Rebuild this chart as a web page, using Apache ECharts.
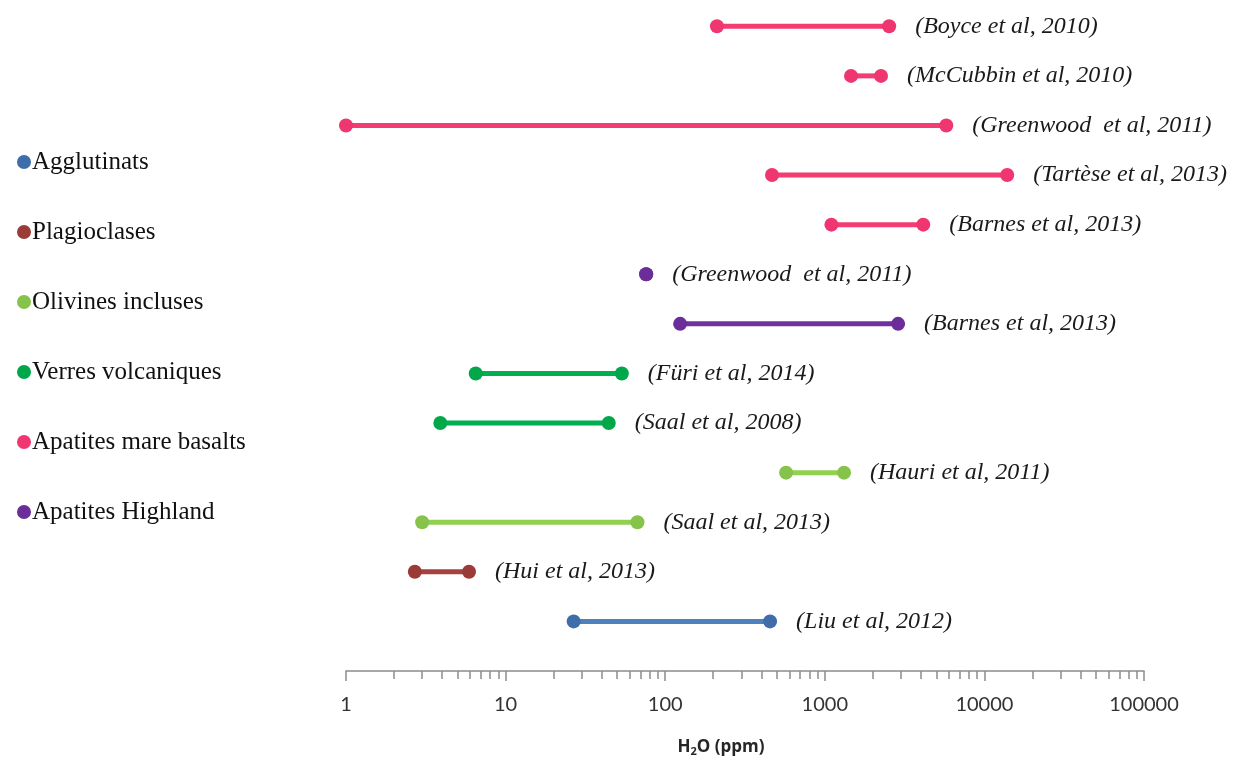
<!DOCTYPE html>
<html>
<head>
<meta charset="utf-8">
<script src="https://cdn.jsdelivr.net/npm/echarts@6/dist/echarts.min.js"></script>
<style>
html, body { margin: 0; padding: 0; background: #fff; }
#chart { width: 1233px; height: 759px; }
</style>
</head>
<body>
<div id="chart"></div>
<script>
// categories (legend order)
const groups = ['Agglutinats', 'Plagioclases', 'Olivines incluses', 'Verres volcaniques', 'Apatites mare basalts', 'Apatites Highland'];
const lineColors = ['#4F81BD', '#A5423F', '#92D050', '#00B050', '#F23C72', '#7030A0'];
const markerColors = ['#3E6DAA', '#9B3B38', '#86C34A', '#00A84A', '#F03670', '#6A2D99'];

// rows, top to bottom
const refs = [
  '(Boyce et al, 2010)',
  '(McCubbin et al, 2010)',
  '(Greenwood  et al, 2011)',
  '(Tartèse et al, 2013)',
  '(Barnes et al, 2013)',
  '(Greenwood  et al, 2011)',
  '(Barnes et al, 2013)',
  '(Füri et al, 2014)',
  '(Saal et al, 2008)',
  '(Hauri et al, 2011)',
  '(Saal et al, 2013)',
  '(Hui et al, 2013)',
  '(Liu et al, 2012)'
];
const rowGroup = [4, 4, 4, 4, 4, 5, 5, 3, 3, 2, 2, 1, 0];
const lowValues = [211, 1460, 1, 467, 1100, 76, 124, 6.5, 3.9, 572, 3.0, 2.7, 26.7];
const highValues = [2530, 2250, 5770, 13900, 4140, 76, 2880, 53.5, 44.3, 1320, 67, 5.9, 454];

// minor tick values on the log axis
const minorTicks = [];
[1, 10, 100, 1000, 10000].forEach(function (d) {
  for (let k = 2; k <= 9; k++) minorTicks.push(k * d);
});

const chart = echarts.init(document.getElementById('chart'));

const series = refs.map(function (ref, i) {
  const g = rowGroup[i];
  const y = refs.length - i;
  return {
    name: groups[g],
    type: 'line',
    clip: false,
    symbol: 'circle',
    symbolSize: 14,
    itemStyle: { color: markerColors[g] },
    lineStyle: { color: lineColors[g], width: 5 },
    emphasis: { disabled: true },
    data: [
      [lowValues[i], y],
      {
        value: [highValues[i], y],
        label: {
          show: true,
          position: 'right',
          distance: 19,
          formatter: ref,
          fontFamily: 'Liberation Serif',
          fontStyle: 'italic',
          fontSize: 24,
          color: '#1a1a1a'
        }
      }
    ]
  };
});

const option = {
  backgroundColor: '#fff',
  animation: false,
  title: {
    text: '{b|H}{s|2}{b|O (ppm)}',
    left: 716,
    top: 733,
    textAlign: 'center',
    textStyle: {
      rich: {
        b: { fontFamily: 'Open Sans', fontWeight: 'bold', fontSize: 17, color: '#262626' },
        s: { fontFamily: 'Open Sans', fontWeight: 'bold', fontSize: 11, color: '#262626', padding: [8, 0, 0, 0] }
      }
    }
  },
  legend: {
    data: groups,
    orient: 'vertical',
    left: 12,
    top: 144,
    icon: 'circle',
    itemWidth: 14,
    itemHeight: 14,
    itemGap: 44,
    selectedMode: false,
    textStyle: {
      fontFamily: 'Liberation Serif',
      fontSize: 25,
      lineHeight: 26,
      color: '#111',
      padding: [0, 0, 0, -4]
    }
  },
  grid: { left: 346, right: 89, top: 0, bottom: 88 },
  xAxis: [
    {
      type: 'log',
      logBase: 10,
      min: 1,
      max: 100000,
      axisLine: { lineStyle: { color: '#8c8c8c', width: 1.5 } },
      axisTick: { length: 10, lineStyle: { color: '#8c8c8c', width: 1.5 } },
      axisLabel: {
        fontFamily: 'Lato',
        fontSize: 20,
        color: '#333',
        margin: 24,
        formatter: function (v) { return String(v); }
      },
      splitLine: { show: false }
    },
    {
      type: 'log',
      logBase: 10,
      min: 1,
      max: 100000,
      position: 'bottom',
      axisLine: { show: false },
      axisTick: { length: 8, customValues: minorTicks, lineStyle: { color: '#8c8c8c', width: 1.5 } },
      axisLabel: { show: false },
      splitLine: { show: false }
    }
  ],
  yAxis: {
    type: 'value',
    min: 0,
    max: 13.53,
    show: false
  },
  series: series
};

chart.setOption(option);
</script>
</body>
</html>
